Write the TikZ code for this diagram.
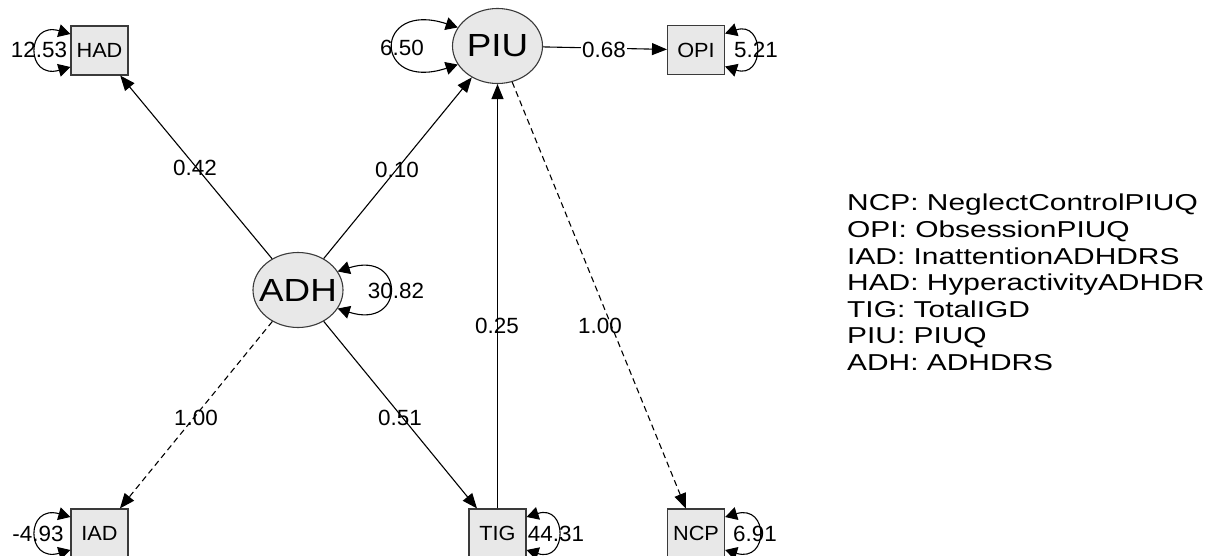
\documentclass[tikz,border=0pt]{standalone}
\usepackage{fontspec}
\setmainfont{Liberation Sans}
\usepackage{graphicx}
\usetikzlibrary{arrows.meta,shapes.geometric}
\definecolor{boxfill}{HTML}{E8E8E8}
\definecolor{edgecol}{HTML}{3A3A3A}
\newcommand{\sxnum}[1]{\scalebox{1.02}[1]{#1}}
\newcommand{\sxbox}[1]{\scalebox{1.06}[1]{#1}}
\newcommand{\sxlat}[1]{\scalebox{1.15}[1]{#1}}
\newcommand{\sxleg}[1]{\scalebox{1.3}[1]{#1}}
\begin{document}
\begin{tikzpicture}[x=1pt,y=-1pt,
  obs/.style={draw=edgecol, fill=boxfill, line width=1.1pt, minimum width=57pt, minimum height=49pt, inner sep=0pt, font=\fontsize{20.5}{24}\selectfont},
  lat/.style={ellipse, draw=edgecol, fill=boxfill, line width=1.1pt, minimum width=90pt, minimum height=75pt, inner xsep=-8pt, inner ysep=-2pt, font=\fontsize{32}{36}\selectfont},
  num/.style={inner sep=0pt, font=\fontsize{22}{26}\selectfont},
  conn/.style={line width=1.1pt, -{Triangle[length=15pt,width=12pt]}},
  dconn/.style={conn, dash pattern=on 6pt off 4pt},
  varloop/.style={line width=1.1pt, {Triangle[length=12pt,width=13pt]}-{Triangle[length=12pt,width=13pt]}},
  legend/.style={anchor=base west, inner sep=0pt, font=\fontsize{23}{27}\selectfont}
]
\useasboundingbox (0,0) rectangle (1209,556);

% nodes
\node[obs] (HAD) at (99.5,50.5) {\sxbox{HAD}};
\node[obs] (OPI) at (696,50) {\sxbox{OPI}};
\node[obs] (IAD) at (99.5,533.5) {\sxbox{IAD}};
\node[obs] (TIG) at (497.5,533.5) {\sxbox{TIG}};
\node[obs] (NCP) at (696,533.5) {\sxbox{NCP}};
\node[lat] (PIU) at (497.5,46) {\sxlat{PIU}};
\node[lat] (ADH) at (298,290) {\sxlat{ADH}};

% edge labels (lines pass through them)
\node[num] (l42) at (195,168) {\sxnum{0.42}};
\node[num] (l10) at (397,170) {\sxnum{0.10}};
\node[num] (l25) at (497,326) {\sxnum{0.25}};
\node[num] (l100a) at (600,326) {\sxnum{1.00}};
\node[num] (l100b) at (196,418) {\sxnum{1.00}};
\node[num] (l51) at (400,418) {\sxnum{0.51}};

% variance labels
\node[num] (vHAD) at (39,50) {\sxnum{12.53}};
\node[num] (vIAD) at (38,533.5) {\sxnum{-4.93}};
\node[num] (vOPI) at (756,50) {\sxnum{5.21}};
\node[num] (vTIG) at (556,534) {\sxnum{44.31}};
\node[num] (vNCP) at (755,534) {\sxnum{6.91}};
\node[num] (vPIU) at (402,48) {\sxnum{6.50}};
\node[num] (vADH) at (396,291) {\sxnum{30.82}};

% connectors
\draw[conn] (ADH) -- (HAD);
\draw[conn] (ADH) -- (PIU);
\draw[conn] (TIG) -- (PIU);
\draw[dconn] (PIU) -- (NCP);
\draw[dconn] (ADH) -- (IAD);
\draw[conn] (ADH) -- (TIG);
\draw[conn] (PIU) -- (OPI);
\node[num, fill=white, inner xsep=1.5pt] (l68) at (604,50) {\sxnum{0.68}};

% variance loops
\draw[varloop] ([yshift=16.5pt]HAD.west) .. controls +(-45,-13) and +(-45,13) .. ([yshift=-16.5pt]HAD.west);
\draw[varloop] ([yshift=16.5pt]IAD.west) .. controls +(-45,-13) and +(-45,13) .. ([yshift=-16.5pt]IAD.west);
\draw[varloop] ([yshift=16.5pt]OPI.east) .. controls +(40,-13) and +(40,13) .. ([yshift=-16.5pt]OPI.east);
\draw[varloop] ([yshift=16.5pt]TIG.east) .. controls +(41,-13) and +(41,13) .. ([yshift=-16.5pt]TIG.east);
\draw[varloop] ([yshift=16.5pt]NCP.east) .. controls +(44,-13) and +(44,13) .. ([yshift=-16.5pt]NCP.east);
\draw[varloop] (PIU.155) .. controls +(-85,-28) and +(-85,28) .. (PIU.205);
\draw[varloop] (ADH.25) .. controls +(68,-22) and +(68,22) .. (ADH.-25);

% legend
\node[legend] (g1) at (847,211) {\sxleg{NCP: NeglectControlPIUQ}};
\node[legend] (g2) at (847,237.5) {\sxleg{OPI: ObsessionPIUQ}};
\node[legend] (g3) at (847,264) {\sxleg{IAD: InattentionADHDRS}};
\node[legend] (g4) at (847,290.5) {\sxleg{HAD: HyperactivityADHDR}};
\node[legend] (g5) at (847,317) {\sxleg{TIG: TotalIGD}};
\node[legend] (g6) at (847,343.5) {\sxleg{PIU: PIUQ}};
\node[legend] (g7) at (847,370) {\sxleg{ADH: ADHDRS}};
\end{tikzpicture}
\end{document}
